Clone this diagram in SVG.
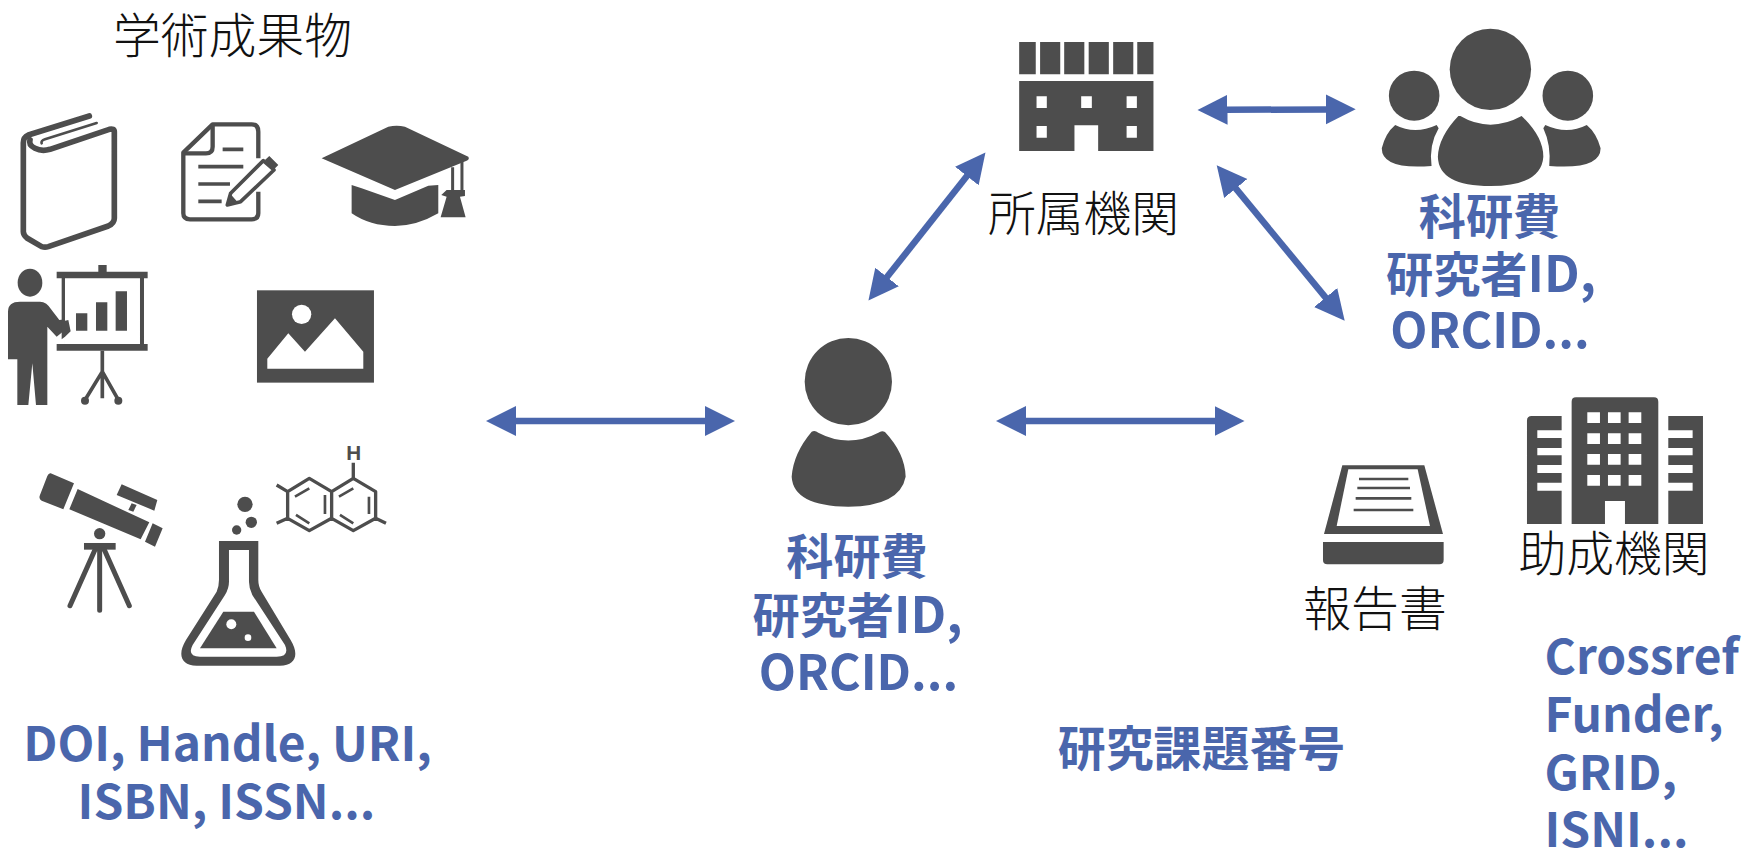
<svg xmlns="http://www.w3.org/2000/svg" width="1746" height="851" viewBox="0 0 1746 851">
<style>
text{font-family:"Noto Sans CJK JP","Noto Sans",sans-serif}
.b{font-size:47.2px;font-weight:700;fill:#4a66ac;text-anchor:middle;font-family:"Noto Sans CJK JP","Noto Sans",sans-serif}
.t{font-size:47.9px}
.u{font-size:48.3px}
.m{font-size:50px}
.l{text-anchor:start}
.k{font-size:47.8px;font-weight:300;fill:#111;text-anchor:middle}
.i{fill:#4d4d4d}
.w{fill:#fff}
.s{fill:none;stroke:#4d4d4d;stroke-linejoin:round}
.c{stroke:#4a66ac;stroke-width:6.5;fill:none}
</style>
<defs>
<marker id="ah" markerUnits="userSpaceOnUse" markerWidth="32" markerHeight="34" refX="2" refY="17" orient="auto-start-reverse"><path d="M0,2L30,17L0,32Z" fill="#4a66ac"/></marker>
</defs>
<rect width="1746" height="851" fill="#fff"/>
<g id="connectors">
<path class="c" d="M514,421H707" marker-start="url(#ah)" marker-end="url(#ah)"/>
<path class="c" d="M1024,421H1216.5" marker-start="url(#ah)" marker-end="url(#ah)"/>
<path class="c" d="M885.8,278.6L968.1,174.5" marker-start="url(#ah)" marker-end="url(#ah)"/>
<path class="c" d="M1225.5,109.8L1327.7,109.4" marker-start="url(#ah)" marker-end="url(#ah)"/>
<path class="c" d="M1234.5,186.9L1326.9,299.1" marker-start="url(#ah)" marker-end="url(#ah)"/>
</g>
<g id="title"><text class="k" x="232.5" y="53">学術成果物</text></g>
<g id="book" transform="translate(0,90) scale(.3333)">
<path class="s" stroke-width="17" stroke-linecap="round" d="M268,78L85,135Q70,142 70,158V425Q70,435 82,445L125,470Q135,473 145,470L325,408Q343,400 343,385V125Q343,115 328,118L150,178Q125,185 105,175Q85,165 90,150"/>
<path class="s" stroke-width="8" stroke-linecap="round" d="M290,99L135,148Q122,152 125,160"/>
</g>
<g id="document" transform="translate(0,90) scale(.3333)">
<path class="s" stroke-width="13" d="M775,205V125Q775,103 755,103H638L550,188V370Q550,388 570,388H755Q775,388 775,370V305"/>
<path class="s" stroke-width="13" d="M638,103V170Q638,190 618,190H550"/>
<path class="s" stroke-width="11" d="M668,178H730M595,230H730M595,282H690M595,334H665"/>
<path class="w" d="M682,345L695,300L795,200L835,230L730,335Z"/>
<path d="M682,345L692,310L790,212L822,240L722,335Z" fill="#fff" stroke="#4d4d4d" stroke-width="11" stroke-linejoin="round"/>
<path class="i" d="M682,345L694,315L712,335ZM795,210L808,198L835,225L820,240Z"/>
</g>
<g id="cap" transform="translate(0,90) scale(.3333)">
<path class="i" d="M965,205L1165,110Q1190,104 1215,110L1405,200Q1410,208 1400,212L1185,300Z"/>
<path class="i" d="M1055,285L1085,295L1185,330L1285,287L1315,285V370Q1250,408 1185,408Q1110,408 1055,370Z"/>
<path class="s" stroke-width="9" d="M1358,232V305M1386,215V305"/>
<path class="i" d="M1340,300L1395,300L1395,318L1380,320L1397,382H1322L1340,320L1324,315Z"/>
</g>
<g id="presenter" transform="translate(0,90) scale(.3333)">
<ellipse class="i" cx="90" cy="578" rx="37" ry="42"/>
<path class="i" d="M24,808V665Q24,635 60,635H120Q140,635 155,660L178,690L212,686L205,712L170,740L142,710V945H108L97,820L85,945H52V808Z"/>
<path class="i" d="M170,545H295V525H320V545H443V565H432V762H443V782H170V762H195V565H170ZM195,565V740L185,748V565Z"/>
<path class="w" d="M195,565H420V762H195V740L212,724L205,690L195,692Z"/>
<path class="i" d="M228,670h34v52h-34zM288,637h34v85h-34zM347,604h34v118h-34z"/>
<path class="s" stroke-width="11" d="M307,782V925M307,845L255,930M307,845L355,930"/>
<circle class="i" cx="255" cy="932" r="12"/><circle class="i" cx="355" cy="932" r="12"/>
</g>
<g id="image-icon" transform="translate(0,90) scale(.3333)">
<rect class="i" x="771" y="601" width="351" height="277"/>
<circle class="w" cx="905" cy="673" r="29"/>
<path class="w" d="M802,806L865,730L915,785L1005,685L1090,785V836H802Z"/>
</g>
<g id="telescope" transform="translate(20,440) scale(.3333)">
<path class="i" d="M92,100L162,130L130,208L65,182Q55,176 60,165L82,108Q86,99 92,100ZM173,147L388,247L362,298L148,208ZM398,250L428,265L405,320L375,305ZM305,133L412,180L403,212L290,165Z"/>
<path class="i" d="M335,190L350,195L340,215L325,210Z"/>
<circle class="i" cx="239" cy="281" r="17"/>
<rect class="i" x="192" y="309" width="95" height="20"/>
<path class="s" stroke-width="15" stroke-linecap="round" d="M239,329V511M225,329L150,497M253,329L328,497"/>
</g>
<g id="flask" transform="translate(20,440) scale(.3333)">
<circle class="i" cx="675" cy="193" r="23"/><circle class="i" cx="694" cy="247" r="17"/><circle class="i" cx="650" cy="270" r="14"/>
<path class="i" d="M597,303H715V420Q715,440 725,455L812,600C837,640 830,677 780,677H530C480,677 473,640 498,600L590,455Q597,440 597,420Z"/>
<path class="w" d="M627,330H687V425Q687,445 697,465L795,615Q810,650 770,650H540Q500,650 518,615L615,465Q627,445 627,425Z"/>
<path class="i" d="M610,515H702L770,625H540Z"/>
<circle class="w" cx="634" cy="553" r="15"/><circle class="w" cx="684" cy="593" r="10"/>
</g>
<g id="molecule" transform="translate(20,440) scale(.3333)">
<path class="s" stroke-width="10" d="M868,115L935,155V235L868,272L803,235V155ZM1000,115L1067,155V235L1000,272L935,235V155ZM1000,115V68M803,155L770,135M803,235L770,250M1067,235L1098,250"/>
<path class="s" stroke-width="8" d="M825,170L868,145M915,165V222M828,225L868,250M957,170L1000,145M1047,170V222M960,225L1000,250"/>
<text x="1001" y="60" font-size="62" font-weight="700" fill="#4d4d4d" text-anchor="middle" style="font-family:'Liberation Sans',sans-serif">H</text>
</g>
<g id="researcher" transform="translate(760,320) scale(.3333)">
<circle class="i" cx="265" cy="185" r="131"/>
<path class="i" d="M155,335Q165,330 175,338Q265,385 355,338Q365,330 375,336Q435,400 437,470Q420,558 265,560Q100,558 95,470Q100,400 155,335Z"/>
</g>
<g id="researcher-label">
<text class="b" x="857" y="574">科研費</text>
<text class="b" x="857.5" y="633">研究者<tspan class="m">ID,</tspan></text>
<text class="b u" x="858.5" y="689.5">ORCID...</text>
</g>
<g id="institution" transform="translate(1000.2,20) scale(.395,.3333)">
<path class="i" d="M48,66h42v97h-42zM101,66h51v97h-51zM162,66h51v97h-51zM224,66h51v97h-51zM286,66h51v97h-51zM347,66h41v97h-41z"/>
<path class="i" d="M48,183H388V393H248V316H188V393H48Z"/>
<path class="w" d="M92,229h26v35h-26zM205,229h27v35h-27zM320,229h26v35h-26zM92,318h26v35h-26zM320,318h26v35h-26z"/>
</g>
<g id="institution-label"><text class="k" x="1083.5" y="231">所属機関</text></g>
<g id="team" transform="translate(1000.2,20) scale(.395,.3333)">
<ellipse class="i" cx="1241" cy="148" rx="103" ry="122"/>
<path class="i" d="M1165,288Q1240,340 1320,288Q1375,350 1375,410Q1370,498 1241,498Q1110,498 1108,410Q1110,350 1160,288Z"/>
<ellipse class="i" cx="1048" cy="227" rx="64" ry="75"/><ellipse class="i" cx="1437" cy="227" rx="64" ry="75"/>
<path class="i" d="M1000,315Q1050,345 1105,315L1110,325Q1085,375 1092,438Q966,450 966,385Q975,340 1000,315Z"/>
<path class="i" d="M1485,315Q1435,345 1380,315L1375,325Q1395,375 1390,438Q1520,450 1520,385Q1510,340 1485,315Z"/>
</g>
<g id="team-label">
<text class="b" x="1489.5" y="234">科研費</text>
<text class="b" x="1491" y="292">研究者<tspan class="m">ID,</tspan></text>
<text class="b u" x="1490" y="348">ORCID...</text>
</g>
<g id="report" transform="translate(1280,380) scale(.3333)">
<path class="i" d="M187,256H433L489,462H132Z"/>
<path class="w" d="M205,268H413L450,438H170Z"/>
<path class="s" stroke-width="8" d="M237,297H385M232,324H390M227,355H394M221,390H400"/>
<path class="i" d="M129,486H491V540Q491,553 478,553H142Q129,553 129,540Z"/>
</g>
<g id="report-label"><text class="k" x="1375" y="626">報告書</text></g>
<g id="funder" transform="translate(1280,380) scale(.3333)">
<path class="i" d="M875,65Q875,52 888,52H1122Q1135,52 1135,65V432H1035V363H975V432H875Z"/>
<path class="w" d="M922,97h38v32h-38zM984,97h38v32h-38zM1046,97h38v32h-38zM922,160h38v32h-38zM984,160h38v32h-38zM1046,160h38v32h-38zM922,222h38v32h-38zM984,222h38v32h-38zM1046,222h38v32h-38zM922,285h38v32h-38zM984,285h38v32h-38zM1046,285h38v32h-38z"/>
<path class="i" d="M845,108H755Q741,108 741,122V432H845V332H772V308H845V279H772V255H845V226H772V204H845V174H772V151H845Z"/>
<path class="i" d="M1165,108H1269V432H1165V332H1238V308H1165V279H1238V255H1165V226H1238V204H1165V174H1238V151H1165Z"/>
</g>
<g id="funder-label"><text class="k" x="1614" y="570.5">助成機関</text></g>
<g id="outputs-label">
<text class="b t" x="227.5" y="761">DOI, Handle, URI,</text>
<text class="b t" x="226.5" y="819">ISBN, ISSN...</text>
</g>
<g id="grant-label"><text class="b t" x="1201.5" y="766">研究課題番号</text></g>
<g id="funder-ids">
<text class="b l t" x="1544.5" y="674">Crossref</text>
<text class="b l t" x="1544.5" y="732">Funder,</text>
<text class="b l t" x="1544.5" y="790">GRID,</text>
<text class="b l t" x="1544.5" y="847">ISNI...</text>
</g>
</svg>
